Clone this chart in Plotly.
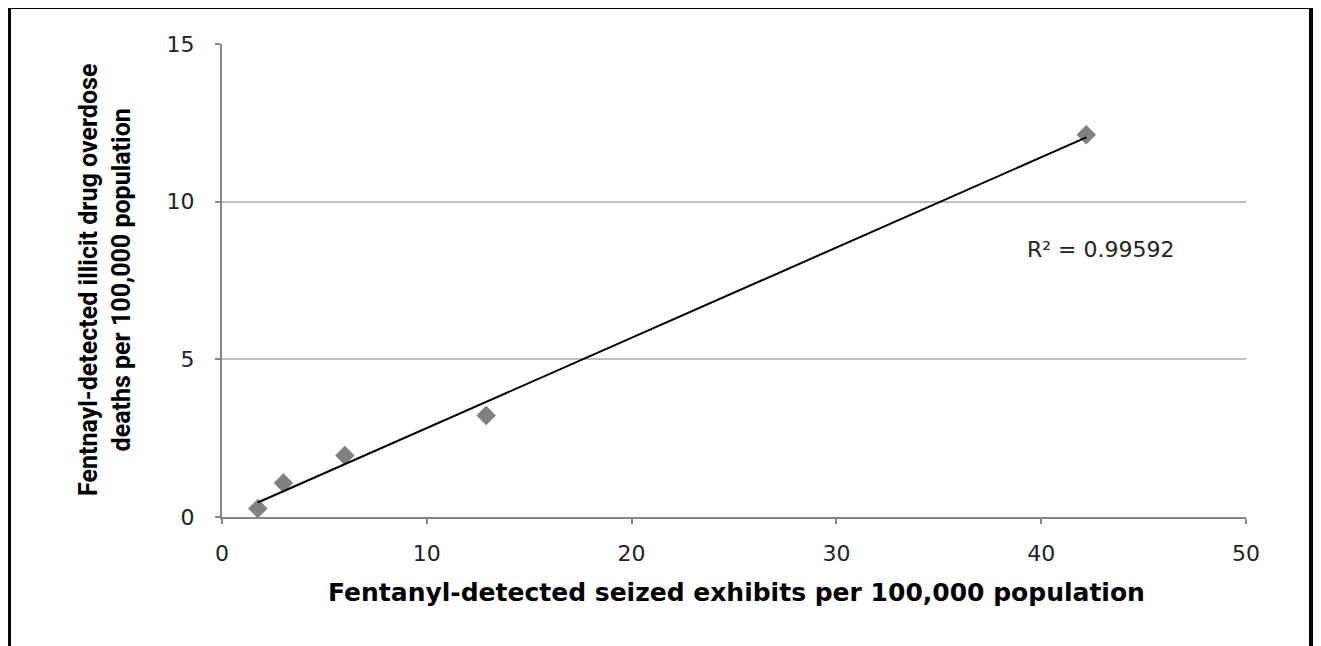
import numpy as np
import plotly.graph_objects as go

# Data
seized_exhibits = [1.75, 3.0, 6.0, 12.9, 42.2]      # per 100,000 population
overdose_deaths = [0.27, 1.08, 1.95, 3.22, 12.12]   # per 100,000 population
r2_label = "R² = 0.99592"
x_ticks = [0, 10, 20, 30, 40, 50]
y_ticks = [0, 5, 10, 15]

x_title = "Fentanyl-detected seized exhibits per 100,000 population"
y_title = "Fentnayl-detected illicit drug overdose<br>deaths per 100,000 population"

# Linear trend line (least squares)
slope, intercept = np.polyfit(seized_exhibits, overdose_deaths, 1)
tx = [min(seized_exhibits), max(seized_exhibits)]
ty = [slope * v + intercept for v in tx]

W, H = 1321, 646
OFF = 8  # page body margin
L, R, T, B = 222 - OFF, 1246 - OFF, 44 - OFF, 517 - OFF

fig = go.Figure()
fig.add_trace(go.Scatter(
    x=seized_exhibits, y=overdose_deaths, mode="markers",
    marker=dict(symbol="diamond", size=15, color="#808080"),
    showlegend=False, cliponaxis=False,
))
fig.add_trace(go.Scatter(
    x=tx, y=ty, mode="lines", line=dict(color="black", width=2),
    showlegend=False,
))

tickfont = dict(family="DejaVu Sans", size=22, color="#222222")
fig.update_xaxes(
    range=[0, 50], tickvals=x_ticks, showgrid=False, zeroline=False,
    showline=True, linecolor="#868686", linewidth=2,
    ticks="outside", ticklen=5, tickwidth=2, tickcolor="#868686",
    tickfont=tickfont, ticklabelstandoff=11, fixedrange=True,
)
fig.update_yaxes(
    range=[0, 15], tickvals=y_ticks, showgrid=True, gridcolor="#BEBEBE", gridwidth=2,
    zeroline=False, showline=True, linecolor="#868686", linewidth=2,
    ticks="outside", ticklen=5, tickwidth=2, tickcolor="#868686",
    tickfont=tickfont, ticklabelstandoff=16, fixedrange=True,
)

def px_x(p):
    return (p - OFF - L) / (R - L)

def px_y(p):
    return (B - (p - OFF)) / (B - T)

fig.add_annotation(
    x=42.9, y=8.47, xref="x", yref="y", text=r2_label, showarrow=False,
    font=dict(family="DejaVu Sans", size=22, color="#222222"),
)
fig.add_annotation(
    x=0.502, y=px_y(592), xref="paper", yref="paper", text="<b>" + x_title + "</b>",
    showarrow=False, xanchor="center", yanchor="middle",
    font=dict(family="DejaVu Sans", size=25, color="black"),
)
fig.add_annotation(
    x=px_x(105), y=px_y(280), xref="paper", yref="paper", text="<b>" + y_title + "</b>",
    showarrow=False, textangle=-90, xanchor="center", yanchor="middle",
    font=dict(family="Liberation Sans Narrow, Roboto, sans-serif", size=25, color="black"),
)

# Outer frame (left, top, right)
frame = dict(color="black", width=4)
fx0, fx1 = px_x(9), px_x(1311)
fy_top, fy_bot = px_y(7), px_y(680)
fig.add_shape(type="line", xref="paper", yref="paper", x0=fx0, x1=fx0, y0=fy_bot, y1=fy_top, line=frame)
fig.add_shape(type="line", xref="paper", yref="paper", x0=fx0, x1=fx1, y0=fy_top, y1=fy_top, line=frame)
fig.add_shape(type="line", xref="paper", yref="paper", x0=fx1, x1=fx1, y0=fy_bot, y1=fy_top, line=frame)

fig.update_layout(
    width=W, height=H,
    margin=dict(l=L, r=W - R, t=T, b=H - B, pad=0),
    paper_bgcolor="white", plot_bgcolor="white",
)

fig.write_html("out.html")
